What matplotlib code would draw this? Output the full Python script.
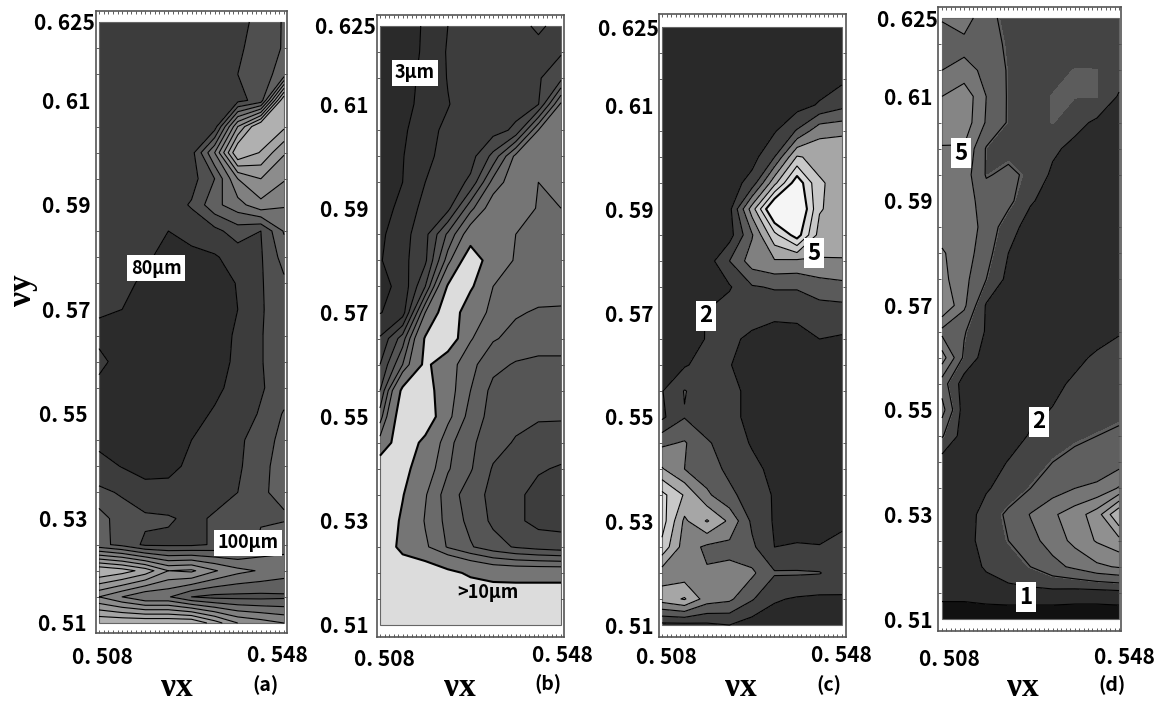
import numpy as np
import matplotlib
matplotlib.use("Agg")
import matplotlib.pyplot as plt
from matplotlib.patches import Rectangle
from matplotlib.ticker import MultipleLocator

plt.rcParams["font.family"] = ["Noto Sans CJK JP", "DejaVu Sans"]

W, H = 1159, 705

nu_x = [0.508, 0.513, 0.518, 0.523, 0.528, 0.533, 0.538, 0.543, 0.548]
nu_y = [0.625, 0.62, 0.615, 0.61, 0.605, 0.60, 0.595, 0.59, 0.585, 0.58, 0.575, 0.57,
        0.565, 0.56, 0.555, 0.55, 0.545, 0.54, 0.535, 0.53, 0.525, 0.52, 0.515, 0.51]
y_ticks = [0.625, 0.61, 0.59, 0.57, 0.55, 0.53, 0.51]
y_labels = ["0. 625", "0. 61", "0. 59", "0. 57", "0. 55", "0. 53", "0. 51"]

# 패널별 값: 행 = nu_y(위에서 아래로), 열 = nu_x. 단위는 회색 단계 번호
z_a = [
    [1, 1, 1, 1, 1, 1, 1.2, 1.8, 2.6],
    [1, 1, 1, 1, 1, 1, 1.35, 1.9, 2.6],
    [1, 1, 1, 1, 1, 1, 1.5, 2.1, 2.9],
    [1, 1, 1, 1, 1, 1, 1.2, 1.9, 9.6],
    [1, 1, 1, 1, 1, 1, 6.5, 9.8, 8.7],
    [1, 1, 1, 1, 1.1, 4.5, 9.6, 8.4, 6.6],
    [1, 1, 1, 1, 1.1, 2.5, 5.5, 6.5, 5.6],
    [1, 1, 1, 1, 1.6, 3.2, 4.1, 5.2, 4.6],
    [1, 1, 1, 0.5, 0.9, 1.2, 2.0, 1.5, 3.6],
    [1, 1, 0.7, 0.1, 0.2, 0.4, 0.9, 1.4, 2.9],
    [1, 0.9, 0.2, 0, 0, 0.1, 0.55, 1.4, 2.3],
    [0.6, 0.5, 0, 0, 0, 0, 0.5, 1.4, 2.1],
    [0.3, 0.1, 0, 0, 0, 0.2, 0.6, 1.45, 2.0],
    [0.7, 0.2, 0, 0, 0, 0.2, 0.65, 1.45, 2.0],
    [0.3, 0.1, 0, 0, 0, 0.3, 0.8, 1.4, 2.0],
    [0.2, 0.1, 0, 0, 0.2, 0.6, 1, 1.6, 2.6],
    [0.2, 0.1, 0, 0.1, 0.5, 0.9, 1.2, 2.2, 2.7],
    [0.9, 0.45, 0.2, 0.25, 0.7, 1.1, 1.3, 2.3, 2.8],
    [1.7, 1.4, 0.8, 0.8, 1.2, 1.2, 1.5, 2.4, 2.7],
    [3, 1.9, 1.7, 1.6, 1.3, 1.6, 1.9, 2.4, 2.4],
    [2.8, 2.2, 1.3, 1.3, 1.3, 1.6, 1.8, 2.7, 3.2],
    [9.5, 9, 8.1, 6.5, 6.7, 5.6, 4.8, 4.4, 4],
    [5.5, 4.5, 3.6, 3.6, 2.5, 2.2, 2.2, 2.2, 2.3],
    [9.5, 9.5, 9.5, 9.5, 9.5, 8.0, 6.5, 6, 5.5],
]
z_b = [
    [0, 0.1, 0.6, 1.5, 1.8, 2, 2.3, 2.6, 2.3],
    [0, 0.2, 0.6, 1.6, 2, 2, 2.2, 2.3, 2.4],
    [0, 0.2, 0.7, 1.55, 2, 2, 2.1, 2.4, 3.2],
    [0, 0.3, 0.7, 1.45, 2, 2, 2.1, 2.45, 6.7],
    [0, 0.3, 1.2, 1.7, 2, 2.1, 2.7, 6.5, 6.7],
    [0, 0.45, 1.3, 1.8, 2.1, 3.8, 6.8, 6.8, 6.6],
    [0, 0.5, 1.5, 1.9, 2.7, 5.9, 7.2, 6.5, 6.6],
    [0.2, 0.7, 1.9, 2.2, 5.2, 7.2, 7.2, 6.4, 6.5],
    [0.3, 1.1, 2.2, 4.7, 7.3, 7.2, 6.5, 6.2, 6.4],
    [0.42, 1.2, 2.3, 6, 10, 7.2, 6.4, 6.2, 6.2],
    [0.2, 0.8, 3.5, 8.7, 8.8, 6.5, 6.0, 5.9, 5.8],
    [0.45, 1, 6.5, 10, 7.2, 6.2, 5.6, 5.4, 5.4],
    [1.6, 4, 8.7, 10, 6.6, 5.6, 5.2, 4.9, 4.9],
    [2.5, 5.5, 9, 7, 5.8, 4.8, 4.4, 4.3, 4.3],
    [3.5, 9, 9.5, 7, 5.5, 4.2, 4, 3.9, 4.1],
    [5, 10, 10, 6.8, 5.1, 4.1, 3.8, 3.6, 3.6],
    [7, 10, 7.9, 5.8, 4.7, 3.9, 3.4, 3.1, 3.0],
    [10, 9.2, 7.2, 5.6, 4.6, 3.4, 2.9, 2.6, 2.4],
    [10, 8.6, 6.6, 5, 4, 3.2, 2.7, 2.2, 2.1],
    [10, 8.2, 6.4, 5.2, 4.2, 3.3, 2.7, 2.2, 2.2],
    [10, 7.9, 6.7, 5.4, 4.6, 3.9, 3.4, 3.1, 2.9],
    [10, 10, 10, 9, 8.2, 7.7, 7.6, 7.6, 7.6],
    [10, 10, 10, 10, 10, 10, 10, 10, 10],
    [10, 10, 10, 10, 10, 10, 10, 10, 10],
]
z_c = [
    [0, 0, 0, 0, 0, 0, 0, 0, 0],
    [0, 0, 0, 0, 0, 0, 0, 0, 0],
    [0, 0, 0, 0, 0, 0, 0, 0, 0.3],
    [0, 0, 0, 0, 0, 0, 0.1, 0.6, 1.2],
    [0, 0, 0, 0, 0, 0.4, 1.6, 3.2, 3.3],
    [0, 0, 0, 0, 0.1, 1.5, 4.6, 4.2, 4.3],
    [0, 0, 0, 0, 0.9, 4.2, 7.2, 4.6, 4.2],
    [0, 0, 0, 0.2, 4, 8, 8, 4.6, 4],
    [0, 0, 0, 0.1, 2.4, 5.2, 7, 4.1, 4.2],
    [0, 0, 0, 1.5, 3, 3.4, 3.3, 3.4, 3.4],
    [0, 0, 0, 0.4, 1.4, 1.6, 1.6, 2, 2.2],
    [0, 0, 0.55, 1, 0.9, 0.7, 0.7, 1, 1],
    [0, 0.1, 0.55, 0.7, 0.3, 0.1, 0.2, 0.5, 0.4],
    [0, 0.4, 0.9, 0.55, 0, 0, 0, 0, 0.2],
    [0.45, 1.55, 1, 0.8, 0.2, 0, 0, 0, 0.2],
    [0.3, 1.45, 1, 0.9, 0.1, 0, 0, 0, 0.2],
    [2.3, 2.6, 1.6, 1.1, 0.4, 0, 0, 0, 0.2],
    [3.6, 2.5, 1.9, 1.3, 0.8, 0.2, 0, 0, 0.2],
    [5.8, 4.4, 2.7, 1.7, 1.1, 0.4, 0, 0, 0.2],
    [6, 3.3, 4.6, 3.3, 1.3, 0.4, 0, 0, 0.3],
    [5.2, 3, 2.3, 2.2, 1.7, 0.5, 0.6, 0.55, 0.8],
    [3, 2.9, 2.6, 2.8, 2.7, 1.6, 1.6, 1.55, 1],
    [4, 4.6, 3, 2.7, 1.6, 0.6, 0.4, 0.3, 0.4],
    [0.2, 0.2, 0.3, 0.5, 0, 0, 0, 0, 0],
]
z_d = [
    [3.55, 4, 2.8, 2.2, 2, 2, 2, 2, 2],
    [3.2, 3.2, 2.9, 2.35, 2, 2, 2, 2, 2],
    [3.5, 3.8, 3.3, 2.4, 2.1, 2.2, 2.47, 2.46, 2],
    [4.5, 5.2, 3.5, 2.4, 2.2, 2.47, 2.48, 2.48, 1.4],
    [5.2, 5.1, 3.4, 2.4, 2.1, 2.48, 1.85, 1.3, 1],
    [4.4, 4.4, 2.42, 2.2, 2.2, 1.7, 1.2, 1, 1],
    [4, 4, 2.42, 2.7, 2.3, 1.3, 1, 1, 1],
    [4.1, 4, 3, 2.8, 1.6, 1.1, 1, 1, 1],
    [4.1, 4, 3.2, 1.9, 1.1, 1, 1, 1, 1],
    [4.6, 4, 2.9, 1.5, 1, 1, 1, 1, 1],
    [4.8, 3.8, 2.5, 1.2, 1, 1, 1, 1, 1],
    [5.5, 3.7, 1.4, 1, 1, 1, 1, 1, 1],
    [3.2, 2.6, 1.4, 1, 1, 1, 1, 1, 1.4],
    [5, 2.3, 1, 1, 1, 1, 1.2, 1.7, 2],
    [3, 1, 1, 1, 1, 1.2, 1.7, 2, 2.1],
    [3.9, 1, 1, 1, 1.2, 1.55, 1.9, 2, 2.2],
    [2.6, 1, 1, 1, 1.6, 2, 2.3, 2.5, 2.7],
    [1, 1, 1, 1.55, 2, 2.5, 2.8, 2.9, 3.1],
    [1, 1, 1.4, 1.9, 2.5, 3, 3.5, 3.7, 4.6],
    [1, 1, 1.9, 2.7, 3.55, 4.35, 5, 6, 8.5],
    [1, 1.1, 1.9, 2.5, 3.2, 3.9, 4.8, 5.6, 6.2],
    [1, 1.1, 1.6, 2, 2.5, 3.2, 3.7, 4.3, 4.6],
    [0.9, 0.9, 1.1, 1.2, 1.2, 1.2, 1.1, 1.1, 1.2],
    [-0.3, -0.3, -0.3, -0.3, -0.3, -0.3, -0.3, -0.3, -0.3],
]

gray_a = ["#2b2b2b", "#3c3c3c", "#4f4f4f", "#606060", "#707070", "#808080",
          "#8c8c8c", "#989898", "#a4a4a4", "#b0b0b0"]
gray_b = ["#2a2a2a", "#333333", "#3d3d3d", "#484848", "#555555", "#5f5f5f",
          "#6a6a6a", "#757575", "#757575", "#dcdcdc"]
gray_c = ["#292929", "#404040", "#5a5a5a", "#808080", "#a6a6a6", "#c8c8c8",
          "#d8d8d8", "#f5f5f5"]
gray_d = ["#111111", "#2b2b2b", "#444444", "#5c5c5c", "#5f5f5f", "#757575", "#858585",
          "#909090", "#a0a0a0", "#b0b0b0"]

# 픽셀 배치 (왼, 오, 위, 아래)
panels = [
    dict(z=z_a, gray=gray_a, fill=[-1, .5, 1.5, 2.5, 3.5, 4.5, 5.5, 6.5, 7.5, 8.5, 11],
         line=[.5, 1.5, 2.5, 3.5, 4.5, 5.5, 6.5, 7.5, 8.5], thick=[],
         frame=(96, 287, 11, 633), data=(99, 284, 22, 623), pad=[1, 4, 4, 4, 6, 6, 7],
         x508=(102, 658), x548=(277, 656), nu=(177, 687), tag=("(a)", 266, 685)),
    dict(z=z_b, gray=gray_b, fill=[-1, .5, 1.5, 2.5, 3.5, 4.5, 5.5, 6.5, 7.5, 8.5, 11],
         line=[.5, 1.5, 2.5, 3.5, 4.5, 5.5, 6.5], thick=[8.5],
         frame=(377, 564, 15, 637), data=(380, 561, 26, 625), pad=[1, 6, 6, 6, 6, 6, 6],
         x508=(384, 659), x548=(562, 656), nu=(460, 688), tag=("(b)", 548, 684)),
    dict(z=z_c, gray=gray_c, fill=[-1, .5, 1.5, 2.5, 3.5, 4.5, 5.5, 6.5, 11],
         line=[.5, 1.5, 2.5, 3.5, 4.5, 5.5], thick=[6.5],
         frame=(659, 846, 14, 637), data=(662, 842, 27, 625), pad=[0, 4, 4, 4, 4, 4, 4],
         x508=(666, 658), x548=(841, 656), nu=(741, 688), tag=("(c)", 829, 685)),
    dict(z=z_d, gray=gray_d, fill=[-1, .5, 1.5, 2.44, 2.5, 3.5, 4.5, 5.5, 6.5, 7.5, 11],
         line=[.5, 1.5, 2.5, 3.5, 4.5, 5.5, 6.5, 7.5], thick=[],
         frame=(938, 1121, 7, 631), data=(942, 1119, 18, 619), pad=[0, 4, 4, 4, 4, 4, 4],
         x508=(949, 659), x548=(1124, 657), nu=(1023, 688), tag=("(d)", 1112, 685)),
]

# 라벨 (문자열, 중심 x, 중심 y, 흰 상자, 글자 크기)
notes = [
    ("80μm", 156, 268, True, 13), ("100μm", 248, 543, True, 13),
    ("3μm", 415, 73, True, 13), (">10μm", 488, 592, False, 13),
    ("2", 706, 316, True, 16), ("5", 814, 253, True, 16),
    ("5", 961, 153, True, 16), ("2", 1039, 422, True, 16), ("1", 1026, 597, True, 16),
]

fig = plt.figure(figsize=(W / 100, H / 100), dpi=100)


def px(x, y):
    return x / W, 1 - y / H


for p in panels:
    fl, fr, ft, fb = p["frame"]
    dl, dr, dt, db = p["data"]
    ax = fig.add_axes([fl / W, 1 - fb / H, (fr - fl) / W, (fb - ft) / H])
    xs = (nu_x[-1] - nu_x[0]) / (dr - dl)
    ys = (nu_y[0] - nu_y[-1]) / (db - dt)
    ax.set_xlim(nu_x[0] - (dl - fl) * xs, nu_x[-1] + (fr - dr) * xs)
    ax.set_ylim(nu_y[-1] - (fb - db) * ys, nu_y[0] + (dt - ft) * ys)

    z = np.array(p["z"], dtype=float)
    ax.contourf(nu_x, nu_y, z, levels=p["fill"], colors=p["gray"])
    ax.contour(nu_x, nu_y, z, levels=p["line"], colors="black", linewidths=0.8)
    if p["thick"]:
        ax.contour(nu_x, nu_y, z, levels=p["thick"], colors="black", linewidths=1.5)
    ax.add_patch(Rectangle((nu_x[0], nu_y[-1]), nu_x[-1] - nu_x[0], nu_y[0] - nu_y[-1],
                           fill=False, ec="#666666", lw=0.8))

    ax.set_yticks(y_ticks, y_labels, fontsize=15, fontweight="bold")
    ax.set_xticks([])
    for tick, pad in zip(ax.yaxis.get_major_ticks(), p["pad"]):
        tick.set_pad(pad)
    ax.tick_params(axis="y", which="major", length=0)
    ax.xaxis.set_minor_locator(MultipleLocator(0.001))
    ax.yaxis.set_minor_locator(MultipleLocator(0.005))
    ax.tick_params(which="minor", direction="in", length=2, width=0.6, color="#444444",
                   top=True, bottom=True, left=True, right=True)
    for s in ax.spines.values():
        s.set_color("#555555")
        s.set_linewidth(1.2)

    for key, s in (("x508", "0. 508"), ("x548", "0. 548")):
        fx, fy = px(*p[key])
        fig.text(fx, fy, s, ha="center", va="center", fontsize=15, fontweight="bold")
    fx, fy = px(*p["nu"])
    fig.text(fx, fy, "νx", ha="center", va="center", fontsize=24, fontweight="bold",
             family=["Liberation Serif", "DejaVu Serif"])
    label, tx, ty = p["tag"]
    fx, fy = px(tx, ty)
    fig.text(fx, fy, label, ha="center", va="center", fontsize=14, fontweight="bold")

fx, fy = px(22, 290)
fig.text(fx, fy, "νy", rotation=90, ha="center", va="center", fontsize=24, fontweight="bold",
         family=["Liberation Serif", "DejaVu Serif"])

for s, cx, cy, box, size in notes:
    fx, fy = px(cx, cy)
    bbox = dict(fc="white", ec="none", pad=2.5) if box else None
    fig.text(fx, fy, s, ha="center", va="center", fontsize=size, fontweight="bold",
             color="black", bbox=bbox, zorder=10)

fig.savefig("out.png", dpi=100)
